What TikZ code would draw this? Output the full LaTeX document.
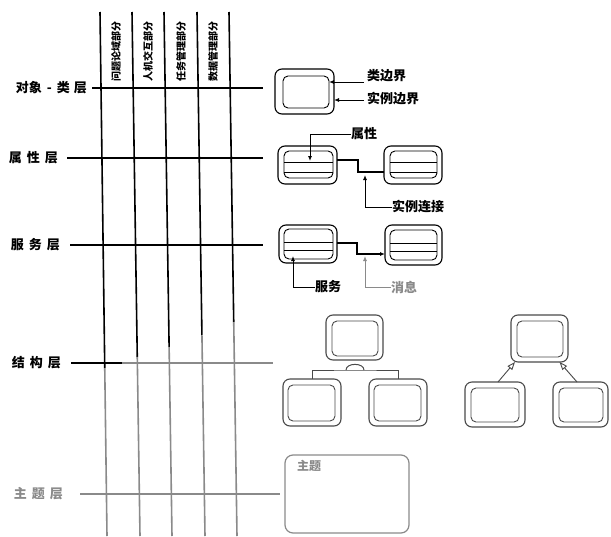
\documentclass[tikz,border=0pt]{standalone}
\usepackage{fontspec}
\newfontfamily\cjk{Noto Sans CJK SC}
\usetikzlibrary{arrows.meta,calc}
\definecolor{fade}{HTML}{8A8A8A}
\definecolor{sgray}{HTML}{4A4A4A}
\newcommand\lsp{\hspace{5pt}}
\begin{document}
\begin{tikzpicture}[x=1pt,y=-1pt,
  lay/.style={font=\cjk\bfseries\fontsize{13}{13}\selectfont, inner sep=0, anchor=east},
  lbl/.style={font=\cjk\bfseries\fontsize{13}{13}\selectfont, inner sep=0, anchor=west},
  col/.style={font=\cjk\bfseries\fontsize{10}{10}\selectfont, rotate=90, anchor=west, inner sep=0},
  gridline/.style={line width=1.6pt},
  obox/.style={draw, rounded corners=7pt, line width=1.1pt, inner sep=0, outer sep=0},
  ibox/.style={draw, rounded corners=5pt, line width=0.9pt, inner sep=0, outer sep=0},
  tip/.style={-{Latex[length=5pt,width=4pt]}, line width=0.9pt},
  conn/.style={line width=1.6pt},
]
\useasboundingbox (0,0) rectangle (611,536);

% vertical grid lines (black upper part, faded lower part)
\foreach \xa/\xb/\yc in {100/107/368, 132/140/357, 164/172/347, 197/205/335, 229/237/322}{
  \coordinate (vt) at (\xa,12);
  \coordinate (vb) at (\xb,536);
  \coordinate (vm) at ($(vt)!{(\yc-12)/524}!(vb)$);
  \draw[gridline] (vt) -- (vm);
  \draw[gridline, fade] (vm) -- (vb);
}

% column labels
\node[col] (c1) at (116,82) {问题论域部分};
\node[col] (c2) at (148,82) {人机交互部分};
\node[col] (c3) at (181,82) {任务管理部分};
\node[col] (c4) at (213,82) {数据管理部分};

% layer labels and horizontal lines
\node[lay] (l1) at (87,88) {对象\lsp -\lsp 类\hspace{4pt}层};
\node[lay] (l2) at (58,158) {属\lsp 性\lsp 层};
\node[lay] (l3) at (60,245) {服\lsp 务\lsp 层};
\node[lay] (l4) at (61,363) {结\lsp 构\lsp 层};
\node[lay, fade] (l5) at (63,494) {主\lsp 题\lsp 层};

\coordinate (h1) at (263,88);
\coordinate (h2) at (263,158);
\coordinate (h3) at (263,245);
\coordinate (h4m) at (122,363);
\coordinate (h4) at (273,363);
\coordinate (h5) at (280,494);
\draw[gridline, shorten <=5pt] (l1.east) -- (h1);
\draw[gridline, shorten <=9pt] (l2.east) -- (h2);
\draw[gridline, shorten <=10pt] (l3.east) -- (h3);
\draw[gridline, shorten <=10pt] (l4.east) -- (h4m);
\draw[gridline, fade] (h4m) -- (h4);
\draw[gridline, fade, shorten <=17pt] (l5.east) -- (h5);

% object-class layer
\node[obox, minimum width=59pt, minimum height=45pt] (oc) at (304.5,91.5) {};
\node[ibox, minimum width=46pt, minimum height=32pt] (oci) at (306,92) {};
\node[lbl] (lcb) at (367,76) {类边界};
\node[lbl] (lib) at (367,99) {实例边界};
\draw[tip] (lcb.west) ++(-3,6) coordinate (p1) (p1) -- (p1 -| oci.east);
\draw[tip] (lib.west) ++(-3,1) coordinate (p2) (p2) -- (p2 -| oc.east);

% attribute layer
\node[obox, minimum width=59pt, minimum height=38pt] (al) at (307.5,165) {};
\node[ibox, minimum width=49pt, minimum height=27pt] (ali) at (308.5,164.5) {};
\node[obox, minimum width=58pt, minimum height=38pt] (ar) at (413,165) {};
\node[ibox, minimum width=47pt, minimum height=27pt] (ari) at (413.5,164.5) {};
\foreach \b in {ali,ari}{
  \draw[line width=0.9pt] ($(\b.north west)!0.41!(\b.south west)$) -- ($(\b.north east)!0.41!(\b.south east)$);
  \draw[line width=0.9pt] ($(\b.north west)!0.78!(\b.south west)$) -- ($(\b.north east)!0.78!(\b.south east)$);
}
\coordinate (ac1) at (358,160);
\coordinate (ac2) at (358,172);
\draw[conn] (ac1 -| al.east) -- (ac1) -- (ac2) -- (ac2 -| ar.west);
\node[lbl] (lat) at (351,134) {属性};
\coordinate (atip) at (310,161);
\draw[tip] (lat.west) -| (atip);
\node[lbl] (lic) at (392,207) {实例连接};
\coordinate (ictip) at (365,175);
\draw[tip] (lic.west) -| (ictip);

% service layer
\node[obox, minimum width=58pt, minimum height=38pt] (sl) at (308,244) {};
\node[ibox, minimum width=49pt, minimum height=30pt] (sli) at (308.5,244) {};
\node[obox, minimum width=57pt, minimum height=40pt] (sr) at (413.5,245) {};
\node[ibox, minimum width=47pt, minimum height=30pt] (sri) at (413.5,245) {};
\foreach \b in {sli,sri}{
  \draw[line width=0.9pt] ($(\b.north west)!0.45!(\b.south west)$) -- ($(\b.north east)!0.45!(\b.south east)$);
  \draw[line width=0.9pt] ($(\b.north west)!0.72!(\b.south west)$) -- ($(\b.north east)!0.72!(\b.south east)$);
}
\coordinate (sc1) at (357,243);
\coordinate (sc2) at (357,254);
\draw[conn, -{Latex[length=5pt,width=4pt]}] (sc1 -| sl.east) -- (sc1) -- (sc2) -- (sc2 -| sr.west);
\node[lbl] (lsv) at (315,287) {服务};
\coordinate (svtip) at (293,256);
\draw[tip] (lsv.west) -| (svtip);
\node[lbl, fade] (lmsg) at (391,287) {消息};
\coordinate (mtip) at (365,256);
\draw[tip, fade] (lmsg.west) -| (mtip);

% structure layer: whole-part
\begin{scope}[sgray]
\node[obox, minimum width=57pt, minimum height=45pt] (wt) at (354.5,337.5) {};
\node[ibox, minimum width=46pt, minimum height=35pt] (wti) at (355,338.5) {};
\node[obox, minimum width=58pt, minimum height=47pt] (wl) at (312,402.5) {};
\node[ibox, minimum width=47pt, minimum height=36pt] (wli) at (311.5,403) {};
\node[obox, minimum width=58pt, minimum height=47pt] (wr) at (398,402.5) {};
\node[ibox, minimum width=47pt, minimum height=36pt] (wri) at (397.5,403) {};
\coordinate (wj) at (355,370);
\draw[line width=1pt] (wl.north) |- (wj) -| (wr.north);
\draw[line width=1pt] (346,370) .. controls (346,362.5) and (364,362.5) .. (364,370);

% structure layer: generalisation
\node[obox, minimum width=57pt, minimum height=47pt] (gt) at (539.5,338.5) {};
\node[ibox, minimum width=46pt, minimum height=36pt] (gti) at (540,339) {};
\node[obox, minimum width=60pt, minimum height=45pt] (gl) at (495,404.5) {};
\node[ibox, minimum width=48pt, minimum height=34pt] (gli) at (495,405) {};
\node[obox, minimum width=55pt, minimum height=45pt] (gr) at (580.5,404.5) {};
\node[ibox, minimum width=44pt, minimum height=34pt] (gri) at (581,405) {};
\draw[line width=0.9pt, -{Triangle[open,length=8pt,width=6pt]}] ([xshift=3pt]gl.north) -- ([xshift=-24.5pt]gt.south);
\draw[line width=0.9pt, -{Triangle[open,length=8pt,width=6pt]}] ([xshift=-3.5pt]gr.north) -- ([xshift=20pt]gt.south);
\end{scope}

% subject layer
\node[obox, fade, line width=1.2pt, rounded corners=8pt, minimum width=124pt, minimum height=78pt] (tp) at (347,494) {};
\node[lbl, fade, font=\cjk\bfseries\fontsize{12}{12}\selectfont] (ltp) at (297,466) {主题};
\end{tikzpicture}
\end{document}
